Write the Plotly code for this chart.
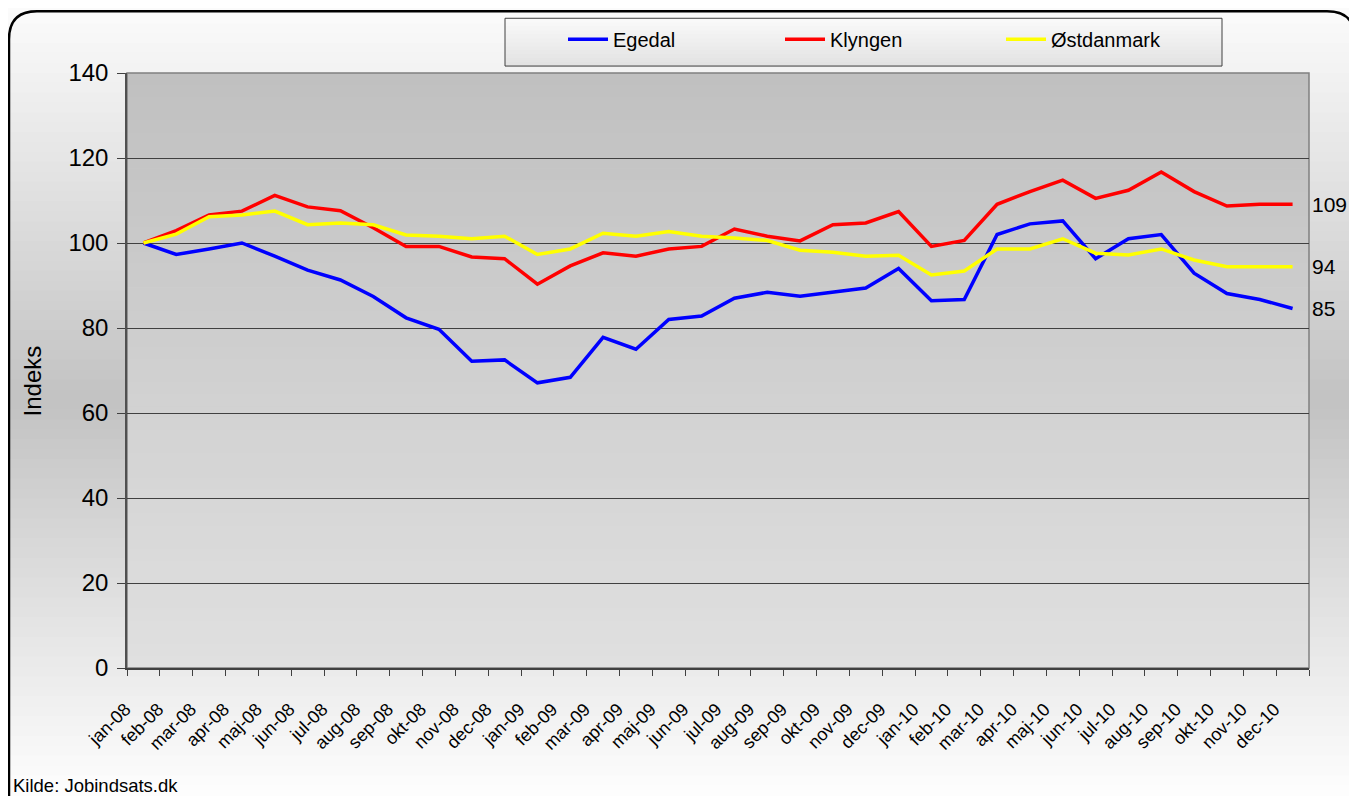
import plotly.graph_objects as go

months = ["jan-08", "feb-08", "mar-08", "apr-08", "maj-08", "jun-08", "jul-08", "aug-08",
          "sep-08", "okt-08", "nov-08", "dec-08", "jan-09", "feb-09", "mar-09", "apr-09",
          "maj-09", "jun-09", "jul-09", "aug-09", "sep-09", "okt-09", "nov-09", "dec-09",
          "jan-10", "feb-10", "mar-10", "apr-10", "maj-10", "jun-10", "jul-10", "aug-10",
          "sep-10", "okt-10", "nov-10", "dec-10"]

egedal = [100, 97.3, 98.6, 100, 96.9, 93.6, 91.3, 87.4, 82.4, 79.7, 72.2, 72.5,
          67.1, 68.4, 77.8, 75.0, 82.0, 82.8, 87.0, 88.4, 87.5, 88.4, 89.4, 94.0,
          86.4, 86.7, 102.0, 104.5, 105.2, 96.3, 101.0, 102.0, 92.9, 88.1, 86.7, 84.6]

klyngen = [100, 102.9, 106.6, 107.5, 111.2, 108.5, 107.6, 103.6, 99.2, 99.2, 96.7, 96.3,
           90.3, 94.6, 97.7, 96.9, 98.6, 99.2, 103.3, 101.6, 100.5, 104.3, 104.7, 107.4,
           99.2, 100.6, 109.1, 112.1, 114.8, 110.5, 112.4, 116.7, 112.1, 108.7, 109.1, 109.1]

ostdanmark = [100, 102.1, 106.2, 106.6, 107.5, 104.3, 104.7, 104.3, 101.9, 101.6, 101.0, 101.6,
              97.3, 98.6, 102.3, 101.6, 102.7, 101.6, 101.2, 100.6, 98.3, 97.8, 96.9, 97.1,
              92.5, 93.4, 98.6, 98.6, 101.0, 97.6, 97.2, 98.6, 96.0, 94.4, 94.4, 94.4]

series = [("Egedal", egedal, "#0000ff"),
          ("Klyngen", klyngen, "#ff0000"),
          ("Østdanmark", ostdanmark, "#ffff00")]

FONT = "Liberation Sans, Arial, sans-serif"

# page body has an 8px margin, so the figure is made 8px smaller and the
# pixel positions below are in screen coordinates
OFF = 8
FW, FH = 1357 - OFF, 796 - OFF

# plot area in screen pixels
L, R, T, B = 127, 1309, 70, 668
W, H = R - L, B - T


def px(x):
    return (x - L) / W


def py(y):
    return (B - y) / H


def grey(v):
    v = int(round(v))
    return f"rgb({v},{v},{v})"


fig = go.Figure()

legend_names = ["legend", "legend2", "legend3"]
for (name, vals, col), lg in zip(series, legend_names):
    fig.add_trace(go.Scatter(x=months, y=vals, name=name, mode="lines", legend=lg,
                             line=dict(color=col, width=3.5)))

shapes = []

# chart area gradient: white -> grey -> white
n = 80
for i in range(n):
    y0 = 796 * i / n
    y1 = 796 * (i + 1) / n
    t = (y0 + y1) / 2 / 796
    if t < 0.5:
        v = 252 - (252 - 194) * (t / 0.5)
    else:
        v = 194 + (254 - 194) * ((t - 0.5) / 0.5)
    shapes.append(dict(type="rect", xref="paper", yref="paper", layer="below",
                       x0=px(0), x1=px(1357), y0=py(y1) - 0.002, y1=py(y0),
                       fillcolor=grey(v), line_width=0))

# plot area gradient
n = 50
for i in range(n):
    t = (i + 0.5) / n
    v = 192 + (224 - 192) * t
    shapes.append(dict(type="rect", xref="paper", yref="paper", layer="below",
                       x0=0, x1=1, y0=1 - (i + 1) / n - 0.001, y1=1 - i / n,
                       fillcolor=grey(v), line_width=0))

shapes.append(dict(type="rect", xref="paper", yref="paper", layer="below",
                   x0=0, x1=1, y0=0, y1=1, line=dict(color="#808080", width=1.5)))

# rounded outer border
bl, bt, br, bb, rr = 9, 8, 1355, 830, 28
path = (f"M {px(bl)},{py(bt + rr)} Q {px(bl)},{py(bt)} {px(bl + rr)},{py(bt)} "
        f"L {px(br - rr)},{py(bt)} Q {px(br)},{py(bt)} {px(br)},{py(bt + rr)} "
        f"L {px(br)},{py(bb - rr)} Q {px(br)},{py(bb)} {px(br - rr)},{py(bb)} "
        f"L {px(bl + rr)},{py(bb)} Q {px(bl)},{py(bb)} {px(bl)},{py(bb - rr)} Z")
shapes.append(dict(type="path", xref="paper", yref="paper", path=path,
                   line=dict(color="black", width=2.5)))

# legend box
lx0, lx1, ly0, ly1 = 505, 1222, 15, 63
n = 12
for i in range(n):
    y0 = ly0 + (ly1 - ly0) * i / n
    y1 = ly0 + (ly1 - ly0) * (i + 1) / n
    v = 250 - 24 * (i + 0.5) / n
    shapes.append(dict(type="rect", xref="paper", yref="paper",
                       x0=px(lx0), x1=px(lx1), y0=py(y1) - 0.001, y1=py(y0),
                       fillcolor=grey(v), line_width=0))
shapes.append(dict(type="rect", xref="paper", yref="paper",
                   x0=px(lx0), x1=px(lx1), y0=py(ly1), y1=py(ly0),
                   line=dict(color="#404040", width=1)))

annotations = []
for name, vals, col in series:
    annotations.append(dict(x=months[-1], y=vals[-1], text=str(round(vals[-1])),
                            showarrow=False, xanchor="left", xshift=17,
                            font=dict(size=21, color="black", family=FONT)))

annotations.append(dict(x=px(32), y=py(380), xref="paper", yref="paper",
                        text="Indeks", textangle=-90, showarrow=False,
                        xanchor="center", yanchor="middle",
                        font=dict(size=24, color="black", family=FONT)))
annotations.append(dict(x=px(11), y=py(786), xref="paper", yref="paper",
                        text="Kilde: Jobindsats.dk", showarrow=False,
                        xanchor="left", yanchor="middle",
                        font=dict(size=18.5, color="black", family=FONT)))

legend_style = dict(orientation="h", yanchor="middle", xanchor="left",
                    bgcolor="rgba(0,0,0,0)", borderwidth=0, itemwidth=40,
                    font=dict(size=20, family=FONT, color="black"))
legend_x = [563, 780, 1001]

fig.update_layout(
    width=FW, height=FH,
    margin=dict(l=L - OFF, r=1357 - R, t=T - OFF, b=796 - B),
    paper_bgcolor="white",
    plot_bgcolor="rgba(0,0,0,0)",
    font=dict(family=FONT, color="black"),
    shapes=shapes,
    annotations=annotations,
    showlegend=True,
    legend=dict(x=px(legend_x[0]), y=py(36), **legend_style),
    legend2=dict(x=px(legend_x[1]), y=py(36), **legend_style),
    legend3=dict(x=px(legend_x[2]), y=py(36), **legend_style),
)

fig.update_xaxes(type="category", tickson="boundaries", ticks="outside", ticklen=6,
                 tickcolor="#404040", showline=True, linecolor="#404040", linewidth=1.5,
                 showgrid=False, tickangle=-45, tickfont=dict(size=18, family=FONT),
                 ticklabelshift=-18, ticklabelstandoff=22,
                 range=[-0.5, len(months) - 0.5])
fig.update_yaxes(range=[0, 140], dtick=20, ticks="outside", ticklen=8,
                 tickcolor="#404040", showline=True, linecolor="#505050", linewidth=1.5,
                 showgrid=True, gridcolor="#404040", gridwidth=1, zeroline=False,
                 ticklabelstandoff=4,
                 tickfont=dict(size=24, family=FONT))

fig.write_html("out.html")
